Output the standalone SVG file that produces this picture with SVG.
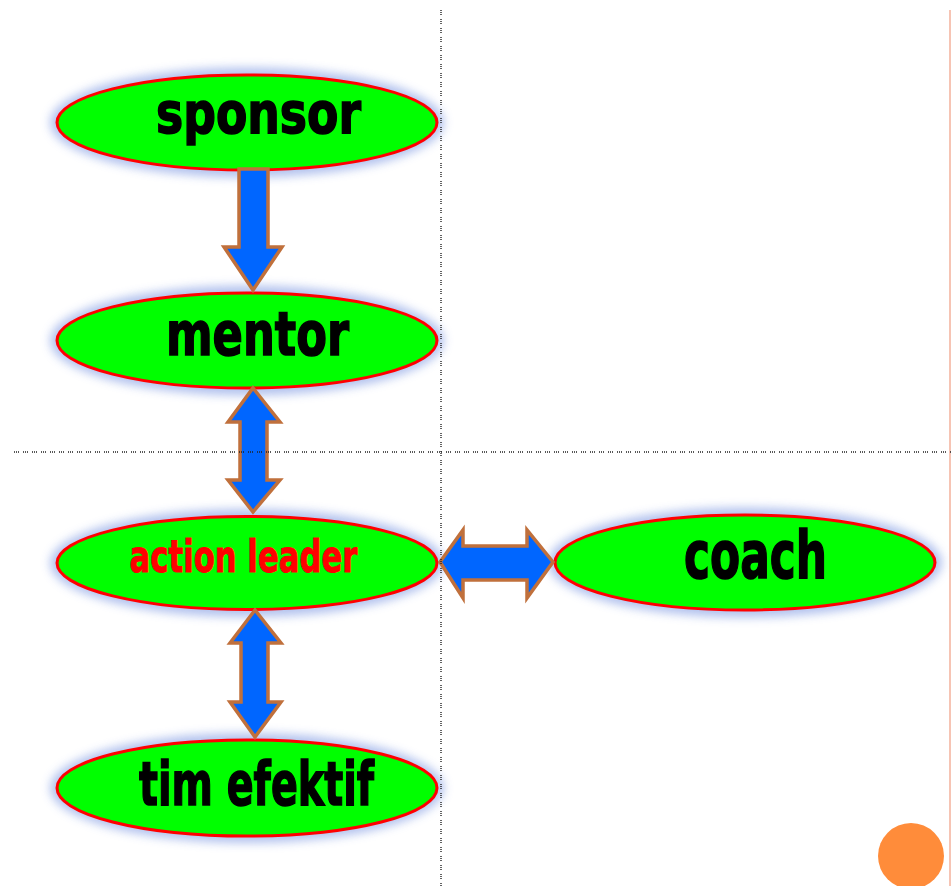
<svg xmlns="http://www.w3.org/2000/svg" width="952" height="886" viewBox="0 0 952 886">
<defs>
<filter id="glow" x="-20%" y="-50%" width="140%" height="200%"><feGaussianBlur stdDeviation="5"/></filter>
<style>
.halo{fill:#aabcec;opacity:0.9;filter:url(#glow)}
.node{fill:#00ff00;stroke:#ff0000;stroke-width:3}
.lbl{font-family:"DejaVu Sans","Liberation Sans",sans-serif;font-weight:bold;fill:#000;stroke:#000;stroke-width:1.6;text-anchor:middle}
.red{fill:#ff0000;stroke:#ff0000;stroke-width:1}
.arrow{fill:#0066ff;stroke:#c0703c;stroke-width:3.5;stroke-linejoin:miter}
.guide{stroke:#222;stroke-width:1.4;stroke-dasharray:1 1 1 1 1 4;fill:none}
</style>
</defs>
<rect width="952" height="886" fill="#fff"/>
<line x1="950" y1="10" x2="950" y2="886" stroke="#f6c4b4" stroke-width="2"/>
<g id="node-sponsor">
<ellipse class="halo" cx="247" cy="122.5" rx="197" ry="55"/>
<ellipse class="node" cx="247" cy="122.5" rx="190" ry="47.5"/>
<text class="lbl" x="258.5" y="133" font-size="57" textLength="205" lengthAdjust="spacingAndGlyphs">sponsor</text>
</g>
<g id="node-mentor">
<ellipse class="halo" cx="247" cy="340.5" rx="197" ry="55"/>
<ellipse class="node" cx="247" cy="340.5" rx="190" ry="47.5"/>
<text class="lbl" x="257.5" y="355" font-size="60" textLength="183" lengthAdjust="spacingAndGlyphs">mentor</text>
</g>
<g id="node-action-leader">
<ellipse class="halo" cx="247" cy="563" rx="197" ry="54"/>
<ellipse class="node" cx="247" cy="563" rx="190" ry="46.5"/>
<text class="lbl red" x="243.5" y="572" font-size="45" textLength="228" lengthAdjust="spacingAndGlyphs">action leader</text>
</g>
<g id="node-coach">
<ellipse class="halo" cx="745" cy="562.5" rx="197" ry="55"/>
<ellipse class="node" cx="745" cy="562.5" rx="190" ry="47.5"/>
<text class="lbl" x="755.5" y="578" font-size="66" textLength="143" lengthAdjust="spacingAndGlyphs">coach</text>
</g>
<g id="node-tim-efektif">
<ellipse class="halo" cx="247" cy="788" rx="197" ry="55"/>
<ellipse class="node" cx="247" cy="788" rx="190" ry="48"/>
<text class="lbl" x="256.5" y="805" font-size="60" textLength="235" lengthAdjust="spacingAndGlyphs">tim efektif</text>
</g>
<g id="connectors">
<path class="arrow" d="M239,169 L268,169 L268,247 L282,247 L253,290 L224,247 L239,247 Z"/>
<path class="arrow" d="M253,388 L280,422 L267,422 L267,480 L280,480 L253,512 L228,480 L240,480 L240,422 L228,422 Z"/>
<path class="arrow" d="M255,610 L281,643 L268,643 L268,702 L281,702 L255,737 L230,702 L241,702 L241,643 L230,643 Z"/>
<path class="arrow" d="M440,562 L463,530 L463,546 L527,546 L527,530 L553,562 L527,598 L527,580 L463,580 L463,598 Z"/>
</g>
<line class="guide" x1="441" y1="10" x2="441" y2="886"/>
<line class="guide" x1="14" y1="452" x2="952" y2="452"/>
<circle cx="911" cy="856" r="33" fill="#ff8c3a"/>
</svg>
